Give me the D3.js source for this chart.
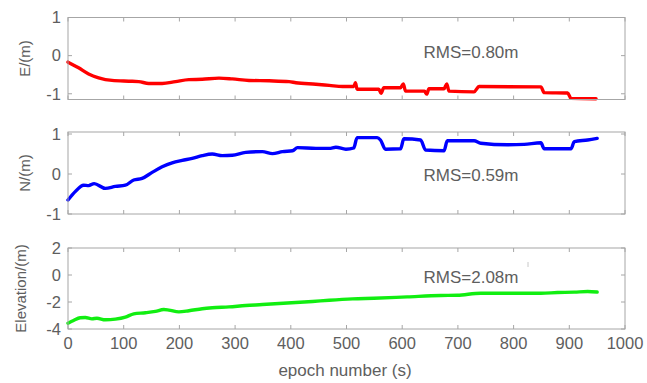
<!DOCTYPE html>
<html>
<head>
<meta charset="utf-8">
<script src="https://cdnjs.cloudflare.com/ajax/libs/d3/7.8.5/d3.min.js"></script>
<style>
  body { margin: 0; background: #fff; }
  svg { display: block; font-family: "Liberation Sans", Arial, sans-serif; }
</style>
</head>
<body>
<svg width="647" height="383"></svg>
<script>
// values: [epoch, metres]
var eastData = [[0,-0.17],[19,-0.32],[37,-0.48],[55,-0.58],[79,-0.65],[109,-0.67],[127,-0.68],[145,-0.73],[169,-0.73],
    [193,-0.68],[217,-0.63],[241,-0.62],[271,-0.59],[295,-0.61],[325,-0.65],[361,-0.66],[397,-0.68],[409,-0.71],
    [445,-0.75],[469,-0.78],[493,-0.81],[513,-0.81],[516,-0.71],[519,-0.88],[558,-0.88],[562,-0.99],[567,-0.84],
    [597,-0.84],[602,-0.74],[606,-0.93],[640,-0.93],[644,-1.01],[648,-0.87],[675,-0.87],[680,-0.74],[684,-0.93],
    [729,-0.95],[738,-0.81],[849,-0.82],[855,-0.97],[897,-0.98],[903,-1.12],[948,-1.13]];
var northData = [[0,-0.65],[13,-0.44],[28,-0.28],[37,-0.29],[47,-0.24],[67,-0.36],[85,-0.31],[103,-0.28],[118,-0.15],
    [133,-0.11],[151,0.04],[169,0.18],[187,0.28],[205,0.34],[223,0.39],[241,0.46],[259,0.50],[277,0.46],[295,0.47],
    [319,0.54],[349,0.56],[367,0.51],[385,0.56],[403,0.58],[412,0.66],[445,0.64],[469,0.64],[481,0.67],[499,0.62],
    [513,0.65],[519,0.91],[555,0.91],[561,0.85],[570,0.62],[597,0.63],[603,0.88],[633,0.85],[642,0.60],[675,0.58],
    [681,0.83],[729,0.83],[741,0.77],[789,0.73],[819,0.74],[849,0.78],[855,0.63],[903,0.63],[909,0.81],[933,0.85],[950,0.89]];
var upData = [[0,-3.57],[10,-3.37],[22,-3.17],[31,-3.15],[43,-3.25],[52,-3.2],[67,-3.32],[85,-3.27],[103,-3.12],
    [118,-2.88],[139,-2.8],[157,-2.7],[172,-2.56],[181,-2.6],[199,-2.73],[217,-2.65],[241,-2.5],[259,-2.43],
    [289,-2.36],[319,-2.26],[349,-2.19],[379,-2.11],[409,-2.04],[439,-1.96],[469,-1.87],[511,-1.77],[549,-1.72],
    [609,-1.62],[669,-1.52],[699,-1.5],[741,-1.35],[789,-1.35],[849,-1.35],[879,-1.3],[909,-1.27],[933,-1.22],[950,-1.26]];

var xTicks = [0, 100, 200, 300, 400, 500, 600, 700, 800, 900, 1000];
var eastTicks = [-1, 0, 1];
var northTicks = [-1, 0, 1];
var upTicks = [-4, -2, 0, 2];
var yLabels = ["E/(m)", "N/(m)", "Elevation/(m)"];
var rmsLabels = ["RMS=0.80m", "RMS=0.59m", "RMS=2.08m"];

var textColor = "#5e5e5e";
var boxColor = "#a6a6a6";

var x = d3.scaleLinear().domain([0, 1000]).range([68, 625]);

function drawPanel(data, yDomain, yRange, ticks, label, rms, rmsY, color, showX) {
    var svg = d3.select("svg");
    var y = d3.scaleLinear().domain(yDomain).range(yRange);
    var top = yRange[1], bottom = yRange[0];

    // inner ticks on all four sides, like matlab
    var g = svg.append("g");
    g.selectAll(".xt").data(xTicks).enter().append("line")
        .attr("x1", function(d) { return x(d); }).attr("x2", function(d) { return x(d); })
        .attr("y1", bottom).attr("y2", bottom - 4)
        .attr("stroke", boxColor);
    g.selectAll(".xt2").data(xTicks).enter().append("line")
        .attr("x1", function(d) { return x(d); }).attr("x2", function(d) { return x(d); })
        .attr("y1", top).attr("y2", top + 4)
        .attr("stroke", boxColor);
    g.selectAll(".yt").data(ticks).enter().append("line")
        .attr("x1", 68).attr("x2", 72)
        .attr("y1", function(d) { return y(d); }).attr("y2", function(d) { return y(d); })
        .attr("stroke", boxColor);
    g.selectAll(".yt2").data(ticks).enter().append("line")
        .attr("x1", 625).attr("x2", 621)
        .attr("y1", function(d) { return y(d); }).attr("y2", function(d) { return y(d); })
        .attr("stroke", boxColor);

    svg.append("path")
        .datum(data)
        .attr("fill", "none")
        .attr("stroke", color)
        .attr("stroke-width", 3.4)
        .attr("stroke-linejoin", "round")
        .attr("stroke-linecap", "round")
        .attr("d", d3.line()
            .curve(d3.curveMonotoneX)
            .x(function(d) { return x(d[0]); })
            .y(function(d) { return y(d[1]); }));

    svg.append("rect")
        .attr("x", 68).attr("y", top)
        .attr("width", 557).attr("height", bottom - top)
        .attr("fill", "none")
        .attr("stroke", boxColor);

    svg.selectAll(null).data(ticks).enter().append("text")
        .attr("x", 61)
        .attr("y", function(d) { return y(d); })
        .attr("dy", "0.35em")
        .attr("text-anchor", "end")
        .attr("font-size", "16.5px")
        .attr("fill", textColor)
        .text(function(d) { return d; });

    svg.append("text")
        .attr("transform", "translate(" + (label.length > 6 ? 21 : 25) + "," + ((top + bottom) / 2) + ") rotate(-90)")
        .attr("dy", "0.35em")
        .attr("text-anchor", "middle")
        .attr("font-size", "15px")
        .attr("fill", textColor)
        .text(label);

    svg.append("text")
        .attr("x", 471)
        .attr("y", rmsY)
        .attr("dy", "0.35em")
        .attr("text-anchor", "middle")
        .attr("font-size", "17px")
        .attr("fill", textColor)
        .text(rms);

    if (showX) {
        svg.selectAll(null).data(xTicks).enter().append("text")
            .attr("x", function(d) { return x(d); })
            .attr("y", 343)
            .attr("dy", "0.35em")
            .attr("text-anchor", "middle")
            .attr("font-size", "16.5px")
            .attr("fill", textColor)
            .text(function(d) { return d; });
        svg.append("text")
            .attr("x", 345)
            .attr("y", 376)
            .attr("text-anchor", "middle")
            .attr("font-size", "17px")
            .attr("fill", textColor)
            .text("epoch number (s)");
    }
}

drawPanel(eastData, [-1.15, 1], [99.5, 17.5], eastTicks, yLabels[0], rmsLabels[0], 52, "#ff0000", false);
drawPanel(northData, [-1, 1.05], [214, 132], northTicks, yLabels[1], rmsLabels[1], 175, "#0000ff", false);
drawPanel(upData, [-4, 2], [329, 248], upTicks, yLabels[2], rmsLabels[2], 277, "#11ee11", true);

// stray mark next to the last RMS label
d3.select("svg").append("line")
    .attr("x1", 528).attr("x2", 528).attr("y1", 262).attr("y2", 267)
    .attr("stroke", "#c8c8c8");
</script>
</body>
</html>
